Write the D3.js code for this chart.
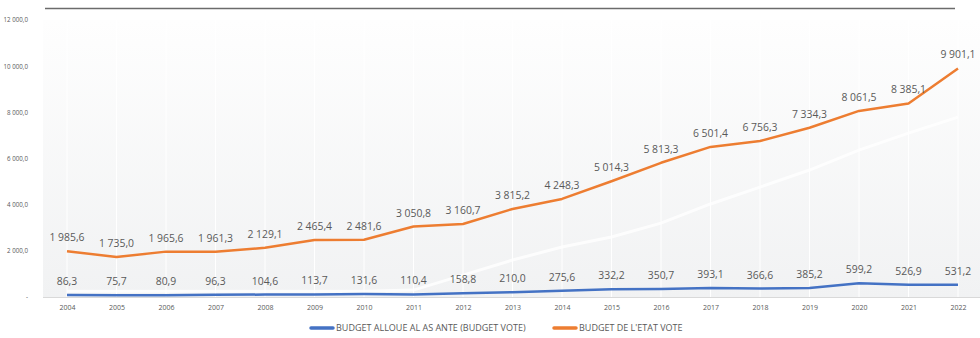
<html lang="fr">
<head>
<meta charset="utf-8">
<script src="https://d3js.org/d3.v7.min.js"></script>
<style>
  body { margin: 0; background: #fff; font-family: "Open Sans", sans-serif; }
  svg { display: block; }
</style>
</head>
<body>
<script>
// data
var years = ["2004","2005","2006","2007","2008","2009","2010","2011","2012","2013",
             "2014","2015","2016","2017","2018","2019","2020","2021","2022"];
var budgetAsante = [86.3, 75.7, 80.9, 96.3, 104.6, 113.7, 131.6, 110.4, 158.8, 210.0,
                    275.6, 332.2, 350.7, 393.1, 366.6, 385.2, 599.2, 526.9, 531.2];
var budgetEtat = [1985.6, 1735.0, 1965.6, 1961.3, 2129.1, 2465.4, 2481.6, 3050.8, 3160.7, 3815.2,
                  4248.3, 5014.3, 5813.3, 6501.4, 6756.3, 7334.3, 8061.5, 8385.1, 9901.1];
// faint white "shadow" trace visible behind the series
var shadowTrace = [250, 250, 250, 250, 250, 250, 250, 300, 950, 1600,
                   2165, 2600, 3200, 4030, 4760, 5500, 6365, 7100, 7795];
var yTicks = [0, 2000, 4000, 6000, 8000, 10000, 12000];
var seriesNames = ["BUDGET ALLOUE AL AS ANTE (BUDGET VOTE)", "BUDGET DE L'ETAT VOTE"];

var width = 980, height = 338;
var blue = "#4472c4", orange = "#ed7d31", textCol = "#595959";

var fr = d3.formatLocale({decimal: ",", thousands: "\u00a0", grouping: [3], currency: ["", ""]});
var fmt = fr.format(",.1f");

var svg = d3.select("body").append("svg")
    .attr("width", width)
    .attr("height", height);

var x = d3.scalePoint().domain(years).range([67, 958]);
var y = d3.scaleLinear().domain([0, 12000]).range([297, 20]);

// plot background gradient
var defs = svg.append("defs");
var grad = defs.append("linearGradient").attr("id", "bg")
    .attr("x1", 0).attr("y1", 1).attr("x2", 0).attr("y2", 0);
grad.append("stop").attr("offset", "0%").attr("stop-color", "#f1f2f3");
grad.append("stop").attr("offset", "100%").attr("stop-color", "#fefefe");

svg.append("rect")
    .attr("x", 43).attr("y", y(12000))
    .attr("width", width - 43).attr("height", y(0) - y(12000))
    .attr("fill", "url(#bg)");

// top rule
svg.append("line")
    .attr("x1", 45).attr("x2", 955)
    .attr("y1", 8.5).attr("y2", 8.5)
    .attr("stroke", "#6b6b6b").attr("stroke-width", 1.3);

// vertical white grid
svg.append("g").selectAll("line")
    .data(years).enter().append("line")
    .attr("x1", function(d) { return x(d); })
    .attr("x2", function(d) { return x(d); })
    .attr("y1", y(12000)).attr("y2", y(0))
    .attr("stroke", "#ffffff").attr("stroke-width", 1);

// x axis line
svg.append("line")
    .attr("x1", 43).attr("x2", width)
    .attr("y1", y(0) + 0.5).attr("y2", y(0) + 0.5)
    .attr("stroke", "#d9d9d9");

// y axis labels
var yAxis = svg.append("g")
    .attr("transform", "translate(31,0)")
    .call(d3.axisLeft(y).tickValues(yTicks).tickSize(0)
        .tickFormat(function(d) { return d === 0 ? "-" : fmt(d); }));
yAxis.select(".domain").remove();
yAxis.selectAll("text")
    .attr("fill", textCol)
    .style("font-size", "6.2px")
    .style("font-family", "'Open Sans', sans-serif");

// x axis labels
var xAxis = svg.append("g")
    .attr("transform", "translate(0," + y(0) + ")")
    .call(d3.axisBottom(x).tickSize(0).tickPadding(8));
xAxis.select(".domain").remove();
xAxis.selectAll("text")
    .attr("fill", textCol)
    .style("font-size", "7px")
    .style("font-family", "'Open Sans', sans-serif");

var line = d3.line()
    .x(function(d, i) { return x(years[i]); })
    .y(function(d) { return y(d); });

// shadow trace
svg.append("path")
    .datum(shadowTrace)
    .attr("d", line)
    .attr("fill", "none")
    .attr("stroke", "#ffffff")
    .attr("stroke-opacity", 0.8)
    .attr("stroke-width", 3);

var series = [
  {name: seriesNames[0], values: budgetAsante, color: blue},
  {name: seriesNames[1], values: budgetEtat, color: orange}
];

series.forEach(function(s) {
  svg.append("path")
      .datum(s.values)
      .attr("d", line)
      .attr("fill", "none")
      .attr("stroke", s.color)
      .attr("stroke-width", 2.5)
      .attr("stroke-linejoin", "round");

  svg.append("g").selectAll("text")
      .data(s.values).enter().append("text")
      .attr("x", function(d, i) { return x(years[i]); })
      .attr("y", function(d) { return y(d) - 10; })
      .attr("text-anchor", "middle")
      .attr("fill", textCol)
      .style("font-size", "10.4px")
      .text(function(d) { return fmt(d); });
});

// legend
var legendX = [311, 554];
var legend = svg.append("g").selectAll("g")
    .data(series).enter().append("g")
    .attr("transform", function(d, i) { return "translate(" + legendX[i] + ",328)"; });
legend.append("line")
    .attr("x1", 0).attr("x2", 22)
    .attr("stroke", function(d) { return d.color; })
    .attr("stroke-width", 3.5)
    .attr("stroke-linecap", "round");
legend.append("text")
    .attr("x", 25).attr("dy", "0.35em")
    .attr("fill", textCol)
    .style("font-size", "9px")
    .text(function(d) { return d.name; });
</script>
</body>
</html>
